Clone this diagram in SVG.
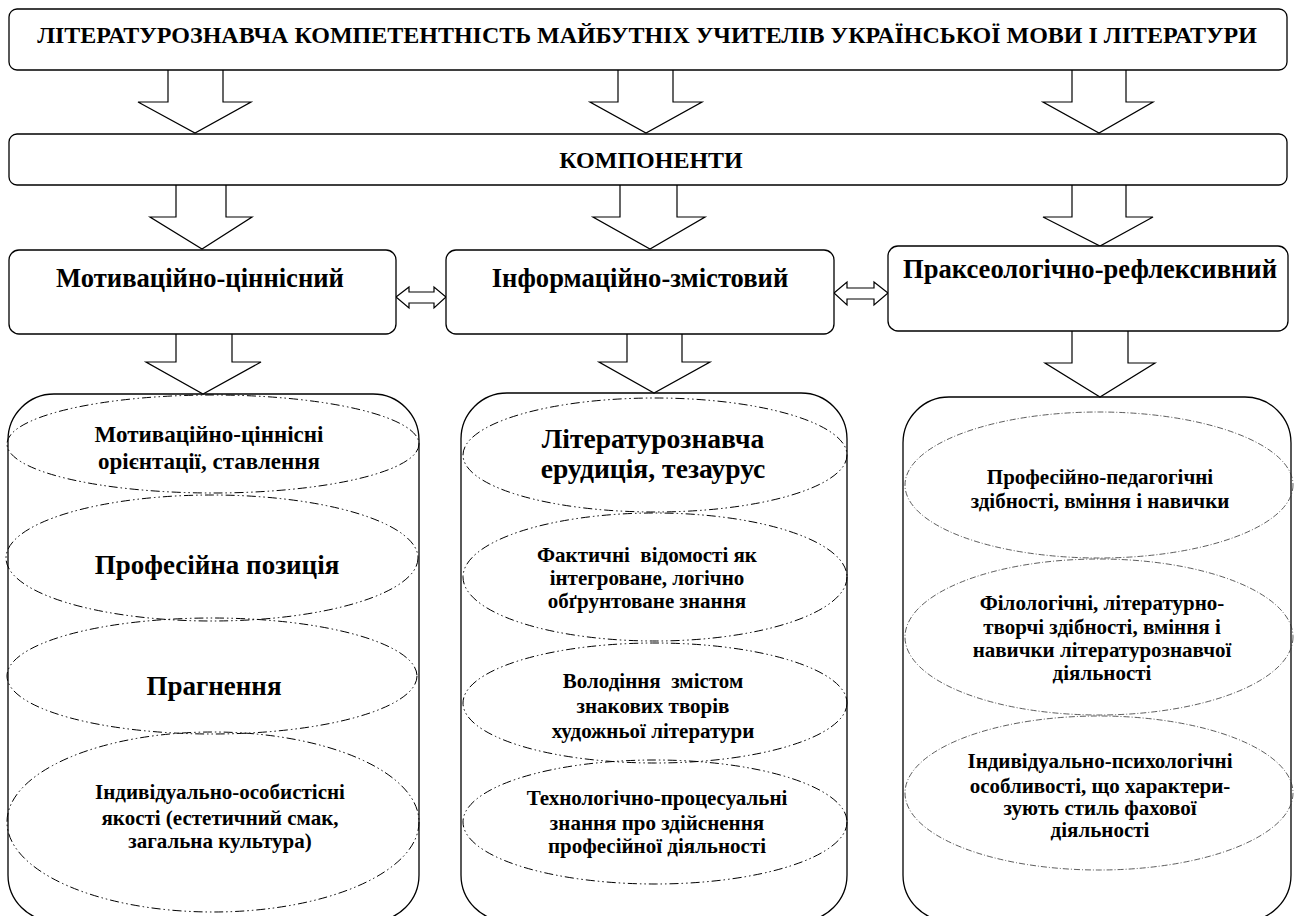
<svg xmlns="http://www.w3.org/2000/svg" width="1295" height="916" viewBox="0 0 1295 916">
<style>
.box{fill:#fff;stroke:#000;stroke-width:1.3}
.arr{fill:#fff;stroke:#000;stroke-width:1.2;stroke-linejoin:miter}
.ell{fill:none;stroke:#000;stroke-width:1;stroke-dasharray:9 3 1.5 3 1.5 3}
.ell2{fill:none;stroke:#333;stroke-width:0.8;stroke-dasharray:6 2 1 2}
text{font-family:"Liberation Serif","Times New Roman",serif;font-weight:bold;fill:#000;text-anchor:middle}
.t23{font-size:23px}
.t24{font-size:24px}
.t26{font-size:26.6px}
.t27{font-size:27px}
.t28{font-size:27.6px}
.t21{font-size:21px}
</style>
<rect width="1295" height="916" fill="#fff"/>
<g id="containers">
<g id="col-left">
<rect class="box" x="8" y="394" width="411" height="527" rx="46"/>
</g>
<g id="col-mid">
<rect class="box" x="461" y="393" width="386" height="528" rx="46"/>
</g>
<g id="col-right">
<rect class="box" x="903" y="397" width="388" height="524" rx="46"/>
</g>
</g>
<g id="connectors">
<path class="arr" d="M168,70 V102 H138 L195,133 L251,102 H223 V70"/>
<path class="arr" d="M618,70 V102 H590 L646,133 L702,102 H673 V70"/>
<path class="arr" d="M1072,70 V102 H1043 L1099,133 L1153,102 H1126 V70"/>
<path class="arr" d="M176,185 V217 H150 L202,249 L252,217 H226 V185"/>
<path class="arr" d="M620,185 V217 H593 L650,249 L705,217 H677 V185"/>
<path class="arr" d="M1072,185 V217 H1043 L1100,246 L1153,217 H1126 V185"/>
<path class="arr" d="M176,334 V362 H146 L203,394 L261,362 H232 V334"/>
<path class="arr" d="M627,334 V362 H599 L654,393 L710,362 H682 V334"/>
<path class="arr" d="M1072,331 V363 H1045 L1100,397 L1155,363 H1128 V331"/>
<path class="arr" d="M396,297 L409,287 V292 H434 V287 L446,297 L434,308 V303 H409 V308 Z"/>
<path class="arr" d="M834,293 L847,282 V288 H874 V282 L888,293 L874,305 V299 H847 V305 Z"/>
</g>
<g id="title">
<rect class="box" x="9" y="9" width="1278" height="61" rx="8"/>
<text class="t24" x="647" y="43">ЛІТЕРАТУРОЗНАВЧА КОМПЕТЕНТНІСТЬ МАЙБУТНІХ УЧИТЕЛІВ УКРАЇНСЬКОЇ МОВИ І ЛІТЕРАТУРИ</text>
</g>
<g id="components">
<rect class="box" x="9" y="134" width="1278" height="51" rx="8"/>
<text class="t24" x="651" y="168">КОМПОНЕНТИ</text>
</g>
<g id="motiv">
<rect class="box" x="9" y="250" width="387" height="84" rx="10"/>
<text class="t26" x="200" y="287">Мотиваційно-ціннісний</text>
</g>
<g id="info">
<rect class="box" x="446" y="250" width="388" height="84" rx="10"/>
<text class="t26" x="640" y="287">Інформаційно-змістовий</text>
</g>
<g id="prax">
<rect class="box" x="888" y="246" width="400" height="85" rx="10"/>
<text class="t26" x="1090" y="278">Праксеологічно-рефлексивний</text>
</g>
<g id="left-items">
<g id="l1">
<ellipse class="ell" cx="213" cy="444" rx="206" ry="49"/>
<text class="t23" x="209" y="442">Мотиваційно-ціннісні</text>
<text class="t23" x="209" y="469">орієнтації, ставлення</text>
</g>
<g id="l2">
<ellipse class="ell" cx="212" cy="558" rx="206" ry="63"/>
<text class="t27" x="217" y="574">Професійна позиція</text>
</g>
<g id="l3">
<ellipse class="ell" cx="212" cy="676" rx="205" ry="58"/>
<text class="t27" x="214" y="695">Прагнення</text>
</g>
<g id="l4">
<ellipse class="ell" cx="213" cy="822" rx="206" ry="90"/>
<text class="t21" x="220" y="799">Індивідуально-особистісні</text>
<text class="t21" x="220" y="825">якості (естетичний смак,</text>
<text class="t21" x="220" y="848">загальна культура)</text>
</g>
</g>
<g id="mid-items">
<g id="m1">
<ellipse class="ell" cx="655" cy="455" rx="192" ry="57"/>
<text class="t28" x="653" y="448">Літературознавча</text>
<text class="t28" x="653" y="478">ерудиція, тезаурус</text>
</g>
<g id="m2">
<ellipse class="ell" cx="655" cy="577" rx="192" ry="64"/>
<text class="t21" x="647" y="562" xml:space="preserve">Фактичні  відомості як</text>
<text class="t21" x="647" y="585">інтегроване, логічно</text>
<text class="t21" x="647" y="608">обґрунтоване знання</text>
</g>
<g id="m3">
<ellipse class="ell" cx="655" cy="703" rx="192" ry="60"/>
<text class="t21" x="653" y="688" xml:space="preserve">Володіння  змістом</text>
<text class="t21" x="653" y="713">знакових творів</text>
<text class="t21" x="653" y="738">художньої літератури</text>
</g>
<g id="m4">
<ellipse class="ell" cx="655" cy="822" rx="192" ry="62"/>
<text class="t21" x="657" y="805">Технологічно-процесуальні</text>
<text class="t21" x="657" y="830">знання про здійснення</text>
<text class="t21" x="657" y="853">професійної діяльності</text>
</g>
</g>
<g id="right-items">
<g id="r1">
<ellipse class="ell2" cx="1099" cy="485" rx="194" ry="73"/>
<text class="t21" x="1100" y="484">Професійно-педагогічні</text>
<text class="t21" x="1100" y="508">здібності, вміння і навички</text>
</g>
<g id="r2">
<ellipse class="ell2" cx="1099" cy="637" rx="194" ry="78"/>
<text class="t21" x="1102" y="610">Філологічні, літературно-</text>
<text class="t21" x="1102" y="634">творчі здібності, вміння і</text>
<text class="t21" x="1102" y="657">навички літературознавчої</text>
<text class="t21" x="1102" y="680">діяльності</text>
</g>
<g id="r3">
<ellipse class="ell2" cx="1099" cy="793" rx="194" ry="77"/>
<text class="t21" x="1100" y="768">Індивідуально-психологічні</text>
<text class="t21" x="1100" y="793">особливості, що характери-</text>
<text class="t21" x="1100" y="815">зують стиль фахової</text>
<text class="t21" x="1100" y="837">діяльності</text>
</g>
</g>
</svg>
